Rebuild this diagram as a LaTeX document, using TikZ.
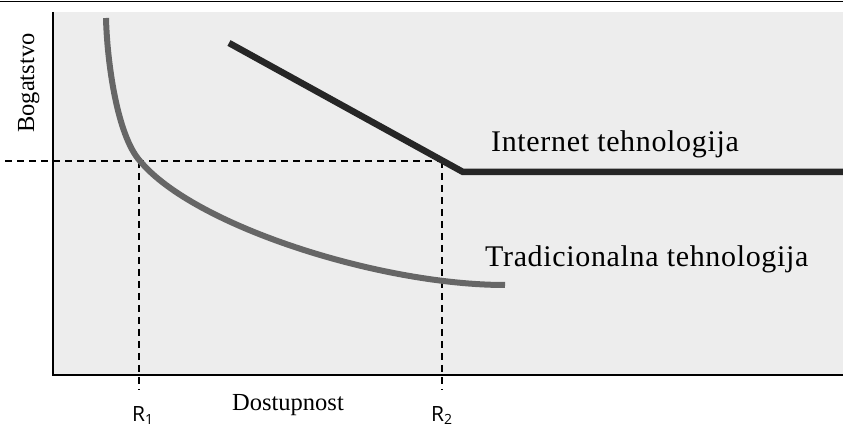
\documentclass[tikz,border=0pt]{standalone}
\usepackage{fontspec}
\setmainfont{Liberation Serif}
\newfontfamily\rfont{Open Sans}
\newcommand{\rsub}[1]{\raisebox{-3.5pt}{\fontsize{14}{14}\selectfont #1}}
\begin{document}
\begin{tikzpicture}[x=1pt,y=-1pt,
  axisline/.style={line width=2.6pt,black},
  guide/.style={line width=1.3pt,black,dash pattern=on 7pt off 5pt},
  inetline/.style={line width=6.5pt,black!85},
  tradline/.style={line width=6pt,black!60},
  lbl/.style={inner sep=0pt,font=\fontsize{30}{32}\selectfont\addfontfeature{LetterSpace=2.2}},
  axlbl/.style={inner sep=0pt,font=\fontsize{24.5}{26}\selectfont},
  rlbl/.style={inner sep=0pt,font=\rfont\fontsize{21}{22}\selectfont}]
\useasboundingbox (0,0) rectangle (843,427);
\fill[black!7] (53,12) rectangle (843,375);
\draw[line width=1.3pt] (0,1.5) -- (843,1.5);
% guide lines
\coordinate (hl) at (5,161);
\coordinate (c1) at (139,161);
\coordinate (c2) at (442,161);
\coordinate (r1b) at (139,390);
\coordinate (r2b) at (442,390);
\draw[guide] (hl) -- (c2);
\draw[guide] (c1) -- (r1b);
\draw[guide] (c2) -- (r2b);
% axes
\coordinate (o) at (53,375);
\coordinate (ytop) at (53,12);
\coordinate (xend) at (843,375);
\draw[axisline] (ytop) -- (o) -- (xend);
% internet line
\coordinate (i0) at (229,43);
\coordinate (i1) at (463,172);
\coordinate (i2) at (843,172);
\draw[inetline] (i0) -- (i1) -- (i2);
% traditional curve
\coordinate (t0) at (106,18);
\coordinate (t1) at (140,161);
\coordinate (t2) at (505,285);
\draw[tradline] (t0) .. controls (107,60) and (116.7,135) .. (t1)
  .. controls (194,226) and (380,285) .. (t2);
% labels
\node[lbl,anchor=base west] (inet) at (491,152) {Internet tehnologija};
\node[lbl,anchor=base west] (trad) at (485,267) {Tradicionalna tehnologija};
\node[axlbl,anchor=base west] (xlab) at (232,410) {Dostupnost};
\node[axlbl,anchor=base west,rotate=90] (ylab) at (34,133) {Bogatstvo};
\node[rlbl,anchor=base west] (r1) at (132,421) {R\rsub{1}};
\node[rlbl,anchor=base west] (r2) at (431,421) {R\rsub{2}};
\end{tikzpicture}
\end{document}
